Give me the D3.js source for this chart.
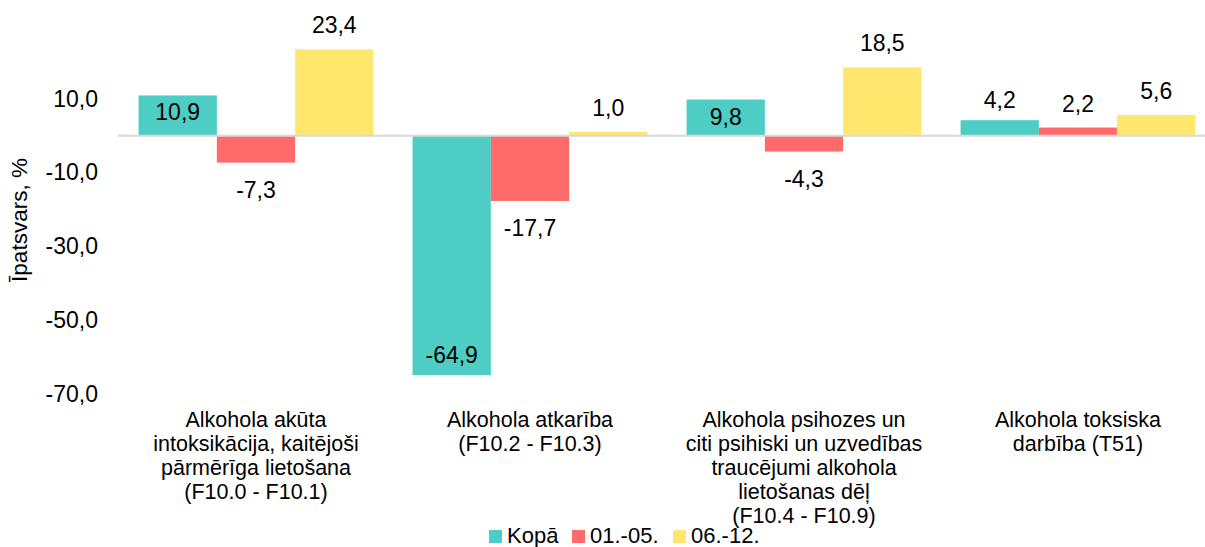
<!DOCTYPE html>
<html><head><meta charset="utf-8">
<script src="https://cdn.jsdelivr.net/npm/d3@7"></script>
<style>body{margin:0;background:#fff}svg{display:block;font-family:"Liberation Sans",Arial,sans-serif}</style>
</head><body><svg id="c" width="1205" height="547"></svg>
<script>
const categories = [
  ["Alkohola akūta","intoksikācija, kaitējoši","pārmērīga lietošana","(F10.0 - F10.1)"],
  ["Alkohola atkarība","(F10.2 - F10.3)"],
  ["Alkohola psihozes un","citi psihiski un uzvedības","traucējumi alkohola","lietošanas dēļ","(F10.4 - F10.9)"],
  ["Alkohola toksiska","darbība (T51)"]
];
const seriesNames = ["Kopā","01.-05.","06.-12."];
const kopa = [10.9, -64.9, 9.8, 4.2];
const p0105 = [-7.3, -17.7, -4.3, 2.2];
const p0612 = [23.4, 1.0, 18.5, 5.6];
const yTicks = [10, -10, -30, -50, -70];
const colors = ["#4ECDC4","#FF6B6B","#FFE66D"];
const series = [kopa, p0105, p0612];

const svg = d3.select("#c");
const fmt = v => v.toFixed(1).replace(".", ",");
const x0 = d3.scaleBand().domain(d3.range(categories.length)).range([119, 1215]).paddingInner(0).paddingOuter(0);
const x1 = d3.scaleBand().domain(d3.range(3)).range([0, x0.bandwidth()]).paddingInner(0).paddingOuter(0.25);
const y = d3.scaleLinear().domain([-70, 30]).range([393.9, 25]);

// y axis tick labels
const yAxis = d3.axisLeft(y).tickValues(yTicks).tickFormat(fmt).tickSize(0).tickPadding(0);
const ga = svg.append("g").attr("transform","translate(98,0)").call(yAxis);
ga.select(".domain").remove();
ga.selectAll("text").attr("font-size",23).attr("fill","#000").attr("font-family","Liberation Sans, Arial, sans-serif");

svg.append("text").attr("transform","translate(27,220) rotate(-90)").attr("text-anchor","middle")
  .attr("font-size",22.5).attr("fill","#000").text("Īpatsvars, %");

// bars
series.forEach((s, si) => {
  svg.append("g").selectAll("rect").data(s).join("rect")
    .attr("x",(d,i)=>x0(i)+x1(si))
    .attr("width",x1.bandwidth())
    .attr("y",d=>y(Math.max(0,d)))
    .attr("height",d=>Math.abs(y(d)-y(0)))
    .attr("fill",colors[si]);
});
// zero line
svg.append("line").attr("x1",118).attr("x2",1205).attr("y1",y(0)).attr("y2",y(0))
  .attr("stroke","#d9d9d9").attr("stroke-width",2);

// labels
series.forEach((s, si) => {
  svg.append("g").selectAll("text").data(s).join("text")
    .attr("x",(d,i)=>x0(i)+x1(si)+x1.bandwidth()/2)
    .attr("y",d=>{
      const h = Math.abs(y(d)-y(0));
      if (si===0) {
        if (h>25) return d>=0 ? y(d)+25 : y(d)-12;
        return y(d)-12;
      }
      return d>=0 ? y(d)-16 : y(d)+35;
    })
    .attr("text-anchor","middle").attr("font-size",23).attr("fill","#000")
    .text(fmt);
});

// category labels
categories.forEach((lines,i)=>{
  const t = svg.append("text").attr("text-anchor","middle").attr("font-size",21.5).attr("fill","#000");
  lines.forEach((l,j)=>t.append("tspan").attr("x",x0(i)+x0.bandwidth()/2).attr("y",427+j*24).text(l));
});

// legend
const lx = [489, 572, 673];
seriesNames.forEach((n,i)=>{
  svg.append("rect").attr("x",lx[i]).attr("y",530).attr("width",13).attr("height",13).attr("fill",colors[i]);
  svg.append("text").attr("x",lx[i]+18).attr("y",543).attr("font-size",22).attr("fill","#000").text(n);
});
</script></body></html>
